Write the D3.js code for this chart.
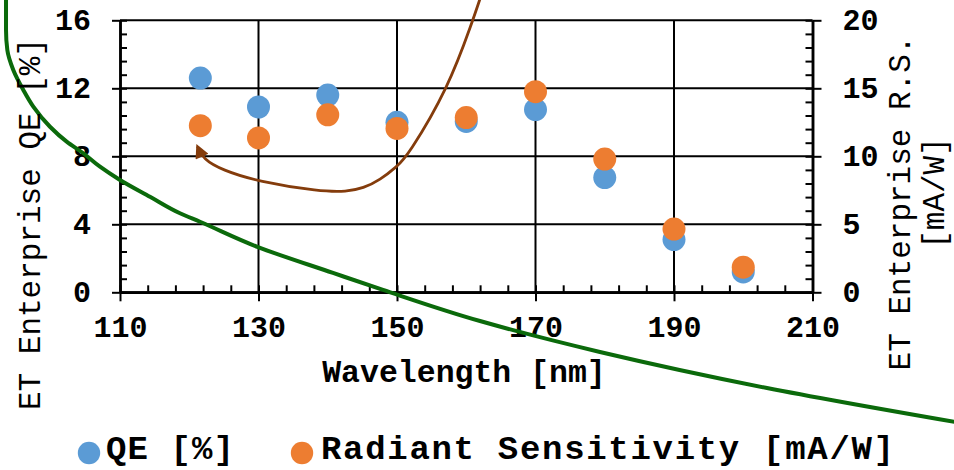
<!DOCTYPE html>
<html>
<head>
<meta charset="utf-8">
<script src="https://cdn.jsdelivr.net/npm/d3@7"></script>
<style>
body { margin: 0; background: #fff; }
svg { display: block; }
text { font-family: "Liberation Mono", "Courier New", monospace; fill: #000; }
</style>
</head>
<body>
<svg id="chart"></svg>
<script>
// chart values
const wavelengths = [121.6, 130, 140, 150, 160, 170, 180, 190, 200];
const qeValues = [12.6, 10.9, 11.6, 10.0, 10.05, 10.75, 6.75, 3.1, 1.2];
const rsValues = [12.25, 11.35, 13.05, 12.05, 12.85, 14.75, 9.8, 4.65, 1.85];
const xTicks = [110, 130, 150, 170, 190, 210];
const qeTicks = [0, 4, 8, 12, 16];
const rsTicks = [0, 5, 10, 15, 20];
const xMinorStep = 4;
const qeMinorStep = 0.8;
const rsMinorStep = 1;

// annotation shapes, in [nm, QE %] units
const greenCurve = [[93.54, 17.6], [93.54, 15.43], [93.73, 14.25], [94.59, 13.08], [96.04, 11.9],
    [97.48, 10.92], [99.89, 9.74], [102.3, 8.86], [104.7, 8.18], [107.11, 7.39], [110, 6.61],
    [114.33, 5.62], [118.66, 4.65], [121.55, 4.15], [129.93, 2.66], [140.76, 1.14], [147.98, 0.14],
    [161.99, -1.69], [179.31, -3.51], [203.43, -5.63], [230.6, -7.63]];
const arrowCurve = [[162.1, 17.4], [160.94, 15.98], [157.41, 12.02], [151.55, 8.02], [149.96, 7.39],
    [147.55, 6.61], [145.13, 6.12], [142.74, 5.92], [138.88, 5.93], [129.97, 6.51], [124.73, 7.19],
    [121.99, 7.84], [121.19, 8.58]];

const width = 954, height = 470;
const margin = {top: 20.3, left: 120, right: 141.5, bottom: 177.7};
const innerW = width - margin.left - margin.right;
const innerH = height - margin.top - margin.bottom;

const svg = d3.select('#chart').attr('width', width).attr('height', height);

const x = d3.scaleLinear().domain([110, 210]).range([margin.left, margin.left + innerW]);
const yL = d3.scaleLinear().domain([0, 16]).range([margin.top + innerH, margin.top]);
const yR = d3.scaleLinear().domain([0, 20]).range([margin.top + innerH, margin.top]);

// gridlines
svg.append('g').selectAll('line')
    .data(qeTicks)
    .join('line')
    .attr('x1', x(110)).attr('x2', x(210))
    .attr('y1', d => yL(d)).attr('y2', d => yL(d))
    .attr('stroke', '#000').attr('stroke-width', 2);

svg.append('g').selectAll('line')
    .data(xTicks.slice(1, -1))
    .join('line')
    .attr('x1', d => x(d)).attr('x2', d => x(d))
    .attr('y1', yL(0)).attr('y2', yL(16))
    .attr('stroke', '#000').attr('stroke-width', 2);

function styleAxis(g, size) {
    g.select('.domain').attr('stroke', '#000').attr('stroke-width', 2.5);
    g.selectAll('.tick line').attr('stroke', '#000').attr('stroke-width', 2);
    g.selectAll('.tick text')
        .style('font-family', '"Liberation Mono", "Courier New", monospace')
        .style('font-weight', 'bold')
        .style('font-size', size + 'px')
        .attr('fill', '#000');
}

// left axis
const leftAxis = svg.append('g').attr('transform', `translate(${x(110)},0)`)
    .call(d3.axisLeft(yL).tickValues(qeTicks).tickSize(8).tickPadding(21).tickSizeOuter(0));
styleAxis(leftAxis, 30);
const leftMinor = svg.append('g').attr('transform', `translate(${x(110)},0)`)
    .call(d3.axisRight(yL).tickValues(d3.range(0, 16.001, qeMinorStep)).tickSize(7).tickFormat('').tickSizeOuter(0));
styleAxis(leftMinor, 30);

// right axis
const rightAxis = svg.append('g').attr('transform', `translate(${x(210)},0)`)
    .call(d3.axisRight(yR).tickValues(rsTicks).tickSize(9).tickPadding(21).tickSizeOuter(0));
styleAxis(rightAxis, 30);
const rightMinor = svg.append('g').attr('transform', `translate(${x(210)},0)`)
    .call(d3.axisLeft(yR).tickValues(d3.range(0, 20.001, rsMinorStep)).tickSize(7).tickFormat('').tickSizeOuter(0));
styleAxis(rightMinor, 30);

// bottom axis
const bottomAxis = svg.append('g').attr('transform', `translate(0,${yL(0)})`)
    .call(d3.axisBottom(x).tickValues(xTicks).tickSize(9).tickPadding(14).tickSizeOuter(0));
styleAxis(bottomAxis, 30);
const bottomMinor = svg.append('g').attr('transform', `translate(0,${yL(0)})`)
    .call(d3.axisTop(x).tickValues(d3.range(110, 210.001, xMinorStep)).tickSize(7).tickFormat('').tickSizeOuter(0));
styleAxis(bottomMinor, 30);

// series
svg.append('g').selectAll('circle')
    .data(wavelengths)
    .join('circle')
    .attr('cx', d => x(d))
    .attr('cy', (d, i) => yL(qeValues[i]))
    .attr('r', 11.5)
    .attr('fill', '#5B9BD5');

svg.append('g').selectAll('circle')
    .data(wavelengths)
    .join('circle')
    .attr('cx', d => x(d))
    .attr('cy', (d, i) => yR(rsValues[i]))
    .attr('r', 11.5)
    .attr('fill', '#ED7D31');

// annotations
svg.append('defs').append('marker')
    .attr('id', 'arrowhead')
    .attr('viewBox', '0 0 10 10')
    .attr('refX', 8).attr('refY', 5)
    .attr('markerWidth', 6).attr('markerHeight', 5)
    .attr('orient', 'auto')
    .append('path')
    .attr('d', 'M0,0 L10,5 L0,10 z')
    .attr('fill', '#843C0C');

const greenLine = d3.line()
    .x(d => x(d[0]))
    .y(d => yL(d[1]))
    .curve(d3.curveMonotoneY);

const arrowLine = d3.line()
    .x(d => x(d[0]))
    .y(d => yL(d[1]))
    .curve(d3.curveBasis);

svg.append('path')
    .attr('d', greenLine(greenCurve))
    .attr('fill', 'none')
    .attr('stroke', '#0B6A0B')
    .attr('stroke-width', 4);

svg.append('path')
    .attr('d', arrowLine(arrowCurve))
    .attr('fill', 'none')
    .attr('stroke', '#843C0C')
    .attr('stroke-width', 2.8)
    .attr('marker-end', 'url(#arrowhead)');

// titles
svg.append('text')
    .attr('x', 464).attr('y', 382)
    .attr('text-anchor', 'middle')
    .style('font-size', '31.5px').style('font-weight', 'bold')
    .text('Wavelength [nm]');

svg.append('text')
    .attr('transform', 'translate(40,224) rotate(-90)')
    .attr('text-anchor', 'middle')
    .style('font-size', '31px')
    .text('ET Enterprise QE [%]');

svg.append('text')
    .attr('transform', 'translate(910,203) rotate(-90)')
    .attr('text-anchor', 'middle')
    .style('font-size', '31px')
    .text('ET Enterprise R.S.');

svg.append('text')
    .attr('transform', 'translate(944,193) rotate(-90)')
    .attr('text-anchor', 'middle')
    .style('font-size', '31px')
    .text('[mA/W]');

// legend
const legendItems = [
    {label: 'QE [%]', color: '#5B9BD5', cx: 89, tx: 106, len: 128},
    {label: 'Radiant Sensitivity [mA/W]', color: '#ED7D31', cx: 302, tx: 321, len: 573}
];
const legend = svg.append('g');
legend.selectAll('circle')
    .data(legendItems)
    .join('circle')
    .attr('cx', d => d.cx).attr('cy', 453)
    .attr('r', 11.2)
    .attr('fill', d => d.color);
legend.selectAll('text')
    .data(legendItems)
    .join('text')
    .attr('x', d => d.tx).attr('y', 459)
    .attr('textLength', d => d.len)
    .attr('lengthAdjust', 'spacing')
    .style('font-size', '34px').style('font-weight', 'bold')
    .text(d => d.label);
</script>
</body>
</html>
